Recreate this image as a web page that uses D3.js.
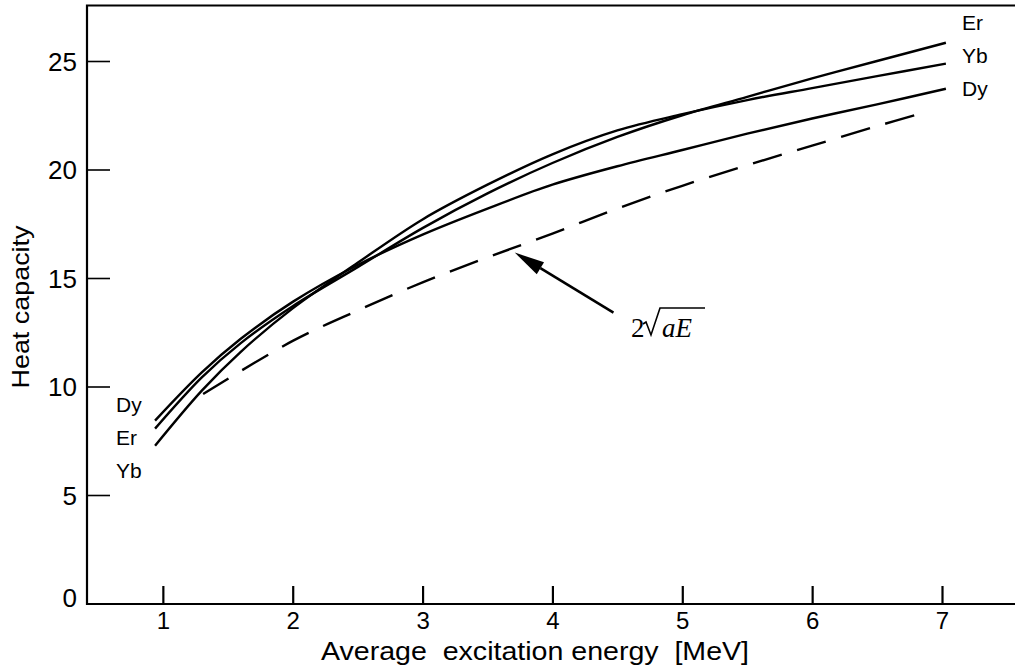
<!DOCTYPE html>
<html>
<head>
<meta charset="utf-8">
<script src="https://cdn.jsdelivr.net/npm/d3@7/dist/d3.min.js"></script>
<style>
  html, body { margin: 0; padding: 0; background: #fff; }
  svg { display: block; }
  text { fill: #000; white-space: pre; }
</style>
</head>
<body>
<div id="chart"></div>
<script>
// values
var energy = [0.94, 1.3, 1.6, 2.0, 2.5, 3.0, 3.5, 4.0, 4.5, 5.0, 5.5, 6.0, 6.5, 7.03]
var dyCap  = [8.43, 10.65, 12.2, 13.9, 15.6, 17.0, 18.2, 19.3, 20.15, 20.9, 21.65, 22.35, 23.0, 23.72]
var erCap  = [8.06, 10.42, 12.0, 13.7, 15.5, 17.3, 18.9, 20.3, 21.5, 22.5, 23.35, 24.2, 25.0, 25.84]
var ybCap  = [7.27, 9.81, 11.6, 13.6, 15.7, 17.7, 19.3, 20.7, 21.8, 22.55, 23.2, 23.75, 24.3, 24.88]

// dashed 2*sqrt(aE) curve
var fermiE = [1.31, 2.0, 2.5, 3.0, 3.5, 4.0, 4.5, 5.0, 5.5, 6.0, 6.5, 6.85]
var fermiC = [9.65, 12.1, 13.5, 14.8, 15.95, 17.05, 18.2, 19.25, 20.2, 21.1, 22.0, 22.6]

var xTicks = [1, 2, 3, 4, 5, 6, 7]
var yTicks = [0, 5, 10, 15, 20, 25]

var leftLabels  = ['Dy', 'Er', 'Yb']
var rightLabels = ['Er', 'Yb', 'Dy']

var W = 1015, H = 672
var x0 = 87, yBase = 604, yTop = 5.5

var x = d3.scaleLinear().domain([0, 7]).range([33, 942])
var y = d3.scaleLinear().domain([0, 25]).range([603.5, 61])

var svg = d3.select('#chart').append('svg')
  .attr('width', W).attr('height', H)
  .attr('font-family', 'Liberation Sans, Arial, Helvetica, sans-serif')

// frame: left, top and bottom lines
var frame = svg.append('g').attr('stroke', '#000').attr('stroke-width', 2.2).attr('fill', 'none')
frame.append('path').attr('d', 'M' + W + ',' + yTop + 'H' + x0 + 'V' + yBase + 'H' + W)

// y axis, ticks pointing inward
var yAxis = svg.append('g').attr('transform', 'translate(' + x0 + ',0)')
  .call(d3.axisLeft(y).tickValues(yTicks).tickFormat(d3.format('d')).tickSize(-23).tickPadding(10))
yAxis.select('.domain').remove()
yAxis.selectAll('.tick line').attr('stroke-width', 1.6)
  .filter(function (d) { return d === 0 }).remove()
yAxis.selectAll('.tick text')
  .attr('font-size', 26).attr('font-family', 'Liberation Sans, Arial, sans-serif')
  .attr('dy', function (d) { return d === 0 ? '0.1em' : '0.36em' })

// x axis, ticks pointing up
var xAxis = svg.append('g').attr('transform', 'translate(0,' + yBase + ')')
  .call(d3.axisBottom(x).tickValues(xTicks).tickFormat(d3.format('d')).tickSize(-18).tickPadding(8))
xAxis.select('.domain').remove()
xAxis.selectAll('.tick line').attr('stroke-width', 2.2)
xAxis.selectAll('.tick text')
  .attr('font-size', 24).attr('font-family', 'Liberation Sans Narrow, Liberation Sans, Arial, sans-serif')

// axis titles
svg.append('text')
  .attr('x', 535).attr('y', 660)
  .attr('text-anchor', 'middle')
  .attr('font-size', 25)
  .attr('font-family', 'Liberation Sans Narrow, Liberation Sans, Arial, sans-serif')
  .attr('textLength', 428).attr('lengthAdjust', 'spacingAndGlyphs')
  .text('Average  excitation energy  [MeV]')

svg.append('text')
  .attr('transform', 'translate(29,307) rotate(-90)')
  .attr('text-anchor', 'middle')
  .attr('font-size', 24)
  .attr('textLength', 163).attr('lengthAdjust', 'spacingAndGlyphs')
  .text('Heat capacity')

// curves
var line = d3.line()
  .x(function (d) { return x(d[0]) })
  .y(function (d) { return y(d[1]) })
  .curve(d3.curveCatmullRom.alpha(0.5))

var series = [dyCap, erCap, ybCap]
svg.append('g').selectAll('path')
  .data(series)
  .join('path')
  .attr('d', function (s) { return line(d3.zip(energy, s)) })
  .attr('fill', 'none').attr('stroke', '#000').attr('stroke-width', 2.4)

svg.append('path')
  .attr('d', line(d3.zip(fermiE, fermiC)))
  .attr('fill', 'none').attr('stroke', '#000').attr('stroke-width', 2.4)
  .attr('stroke-dasharray', '30,16')

// series labels
svg.append('g').selectAll('text')
  .data(leftLabels)
  .join('text')
  .attr('x', 116).attr('y', function (d, i) { return 404 + i * 33 })
  .attr('dy', '0.36em').attr('font-size', 21)
  .text(function (d) { return d })

svg.append('g').selectAll('text')
  .data(rightLabels)
  .join('text')
  .attr('x', 962).attr('y', function (d, i) { return 22 + i * 33 })
  .attr('dy', '0.36em').attr('font-size', 21)
  .text(function (d) { return d })

// arrow pointing at the dashed curve
var tail = [x(4.47), y(13.4)], tip = [x(3.71), y(16.17)]
var ang = Math.atan2(tip[1] - tail[1], tip[0] - tail[0])
var headLen = 30, headW = 7
var base = [tip[0] - headLen * Math.cos(ang), tip[1] - headLen * Math.sin(ang)]
svg.append('line')
  .attr('x1', tail[0]).attr('y1', tail[1]).attr('x2', base[0]).attr('y2', base[1])
  .attr('stroke', '#000').attr('stroke-width', 2.6)
svg.append('path')
  .attr('d', 'M' + tip + 'L' + [base[0] + headW * Math.sin(ang), base[1] - headW * Math.cos(ang)] +
    'L' + [base[0] - headW * Math.sin(ang), base[1] + headW * Math.cos(ang)] + 'Z')
  .attr('fill', '#000')

// formula 2*sqrt(aE)
var fx = 631, fy = 337
var f = svg.append('g').attr('font-family', 'Liberation Serif, Times New Roman, serif').attr('font-size', 27)
f.append('text').attr('x', fx).attr('y', fy).text('2')
f.append('path')
  .attr('d', 'M' + (fx + 12) + ',' + (fy - 13) + 'l3,-2 l5,13 l9,-27 h45')
  .attr('fill', 'none').attr('stroke', '#000').attr('stroke-width', 1.6)
f.append('text').attr('x', fx + 31).attr('y', fy).attr('font-style', 'italic').text('aE')
</script>
</body>
</html>
